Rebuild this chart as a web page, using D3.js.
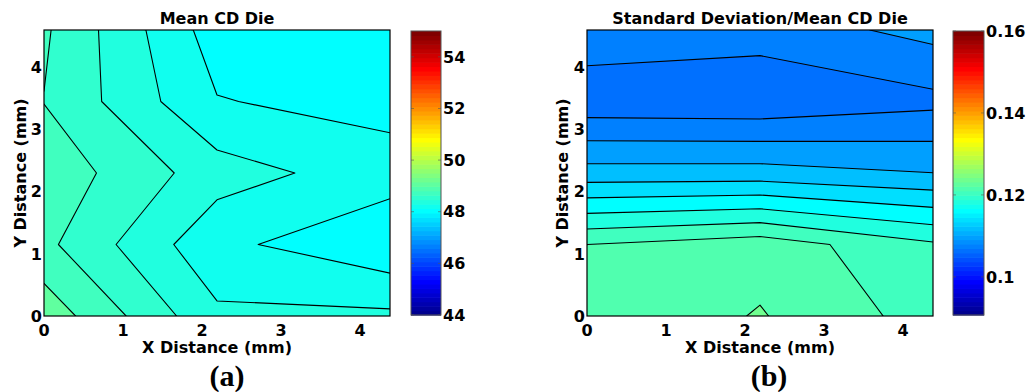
<!DOCTYPE html>
<html>
<head>
<meta charset="utf-8">
<script src="https://cdn.jsdelivr.net/npm/d3@7"></script>
<style>
  html, body { margin: 0; padding: 0; background: #fff; }
  svg { display: block; }
  text { font-family: "DejaVu Sans", sans-serif; font-weight: bold; fill: #000; }
  .cap { font-family: "Liberation Serif", "Times New Roman", serif; font-weight: bold; }
</style>
</head>
<body>
<svg id="chart" width="1029" height="392"></svg>
<script>
// ---------------- data ----------------
// grid node positions (mm)
const xGrid = [0, 2.19, 4.38];
const yGrid = [0, 1.15, 2.3, 3.45, 4.6];

// Mean CD per die (rows: y = 0 … 4.6, columns: x = 0, 2.19, 4.38)
const meanCD = [
  [49.125, 48.44, 48.44],
  [48.85, 48.25, 48.04],
  [48.935, 48.49, 48.29],
  [48.795, 48.21, 48.13],
  [48.83, 48.10, 48.00]
];
const meanLevels = [48.2, 48.4, 48.6, 48.8, 49.0];
const meanColorRange = [44, 55];
const meanColorTicks = [44, 46, 48, 50, 52, 54];

// Standard deviation / mean CD per die
const ratioCD = [
  [0.1222, 0.12415, 0.12113],
  [0.121999, 0.12316, 0.12029],
  [0.1128, 0.11283, 0.11202],
  [0.1066, 0.10644, 0.10745],
  [0.1094, 0.10887, 0.11065]
];
const ratioLevels = [0.108, 0.110, 0.112, 0.114, 0.116, 0.118, 0.120, 0.122, 0.124];
const ratioColorRange = [0.0907, 0.16];
const ratioColorTicks = [0.1, 0.12, 0.14, 0.16];

const axisTicks = [0, 1, 2, 3, 4];
const titles = ["Mean CD Die", "Standard Deviation/Mean CD Die"];
const captions = ["(a)", "(b)"];

// MATLAB jet(64) colormap
function jet64() {
  const n = 16, m = 64;
  const u = [];
  for (let k = 1; k <= n; k++) u.push(k / n);
  for (let k = 1; k < n; k++) u.push(1);
  for (let k = n; k >= 1; k--) u.push(k / n);
  const at = (pos) => (pos >= 1 && pos <= u.length) ? u[pos - 1] : 0;
  const out = [];
  for (let I = 1; I <= m; I++) {
    const r = at(I - 24), g = at(I - 8), b = at(I + 8);
    out.push(d3.rgb(Math.round(r * 255), Math.round(g * 255), Math.round(b * 255)).formatHex());
  }
  return out;
}
const jetColors = jet64();

// ---------------- drawing ----------------
const svg = d3.select("#chart");
svg.append("rect").attr("width", 1029).attr("height", 392).attr("fill", "#fff");

function panel(cfg) {
  const g = svg.append("g");
  const x = d3.scaleLinear().domain([0, 4.38]).range([cfg.left, cfg.left + 346]);
  const y = d3.scaleLinear().domain([0, 4.6]).range([316, 30]);
  const color = d3.scaleQuantize().domain(cfg.cRange).range(jetColors);

  const n = xGrid.length, m = yGrid.length;
  const flat = cfg.values.flat();
  // grid index coordinate (value i sits at i + 0.5) -> pixel
  const gx = d3.scaleLinear().domain([0.5, n - 0.5]).range([x(xGrid[0]), x(xGrid[n - 1])]);
  const gy = d3.scaleLinear().domain([0.5, m - 0.5]).range([y(yGrid[0]), y(yGrid[m - 1])]);
  const proj = d3.geoTransform({ point: function(px, py) { this.stream.point(gx(px), gy(py)); } });
  const path = d3.geoPath(proj);

  const clipId = "clip" + cfg.id;
  g.append("clipPath").attr("id", clipId).append("rect")
    .attr("x", x(0)).attr("y", y(4.6)).attr("width", x(4.38) - x(0)).attr("height", y(0) - y(4.6));

  const plot = g.append("g").attr("clip-path", `url(#${clipId})`);
  plot.append("rect")
    .attr("x", x(0)).attr("y", y(4.6)).attr("width", x(4.38) - x(0)).attr("height", y(0) - y(4.6))
    .attr("fill", color(d3.min(flat)));

  const contours = d3.contours().size([n, m]).thresholds(cfg.levels)(flat);
  plot.selectAll("path.band").data(contours).join("path")
    .attr("class", "band")
    .attr("d", path)
    .attr("fill", d => color(d.value))
    .attr("stroke", "#000")
    .attr("stroke-width", 1.1)
    .attr("stroke-linejoin", "round");

  // frame
  g.append("rect")
    .attr("x", x(0)).attr("y", y(4.6)).attr("width", x(4.38) - x(0)).attr("height", y(0) - y(4.6))
    .attr("fill", "none").attr("stroke", "#000").attr("stroke-width", 1.2);

  // tick labels
  g.selectAll("text.xt").data(axisTicks).join("text")
    .attr("class", "xt").attr("x", d => x(d)).attr("y", 336)
    .attr("text-anchor", "middle").attr("font-size", 16).text(d => d);
  g.selectAll("text.yt").data(axisTicks).join("text")
    .attr("class", "yt").attr("x", x(0) - 2).attr("y", d => y(d)).attr("dy", "0.36em")
    .attr("text-anchor", "end").attr("font-size", 16).text(d => d);

  // labels
  g.append("text").attr("x", (x(0) + x(4.38)) / 2).attr("y", 24)
    .attr("text-anchor", "middle").attr("font-size", 16).text(cfg.title);
  g.append("text").attr("x", (x(0) + x(4.38)) / 2).attr("y", 353)
    .attr("text-anchor", "middle").attr("font-size", 16).text("X Distance (mm)");
  g.append("text")
    .attr("transform", `translate(${cfg.ylabX},${(y(0) + y(4.6)) / 2}) rotate(-90)`)
    .attr("text-anchor", "middle").attr("font-size", 16).text("Y Distance (mm)");
  g.append("text").attr("class", "cap").attr("x", cfg.capX).attr("y", 386)
    .attr("text-anchor", "middle").attr("font-size", 30).text(cfg.caption);

  // colorbar
  const cb = g.append("g");
  const cy = d3.scaleLinear().domain(cfg.cRange).range([315, 31]);
  const N = jetColors.length;
  const step = (cfg.cRange[1] - cfg.cRange[0]) / N;
  cb.selectAll("rect.cbs").data(d3.range(N)).join("rect")
    .attr("class", "cbs")
    .attr("x", cfg.cbX).attr("width", cfg.cbW)
    .attr("y", i => cy(cfg.cRange[0] + (i + 1) * step))
    .attr("height", i => cy(cfg.cRange[0] + i * step) - cy(cfg.cRange[0] + (i + 1) * step) + 0.6)
    .attr("fill", i => color(cfg.cRange[0] + (i + 0.5) * step));
  cb.append("rect").attr("x", cfg.cbX).attr("y", 31).attr("width", cfg.cbW).attr("height", 284)
    .attr("fill", "none").attr("stroke", "#555").attr("stroke-width", 1);
  cb.selectAll("line.tl").data(cfg.cTicks).join("line")
    .attr("class", "tl").attr("x1", cfg.cbX).attr("x2", cfg.cbX + 3)
    .attr("y1", d => cy(d)).attr("y2", d => cy(d)).attr("stroke", "#555").attr("stroke-width", 0.6);
  cb.selectAll("line.tr").data(cfg.cTicks).join("line")
    .attr("class", "tr").attr("x1", cfg.cbX + cfg.cbW - 3).attr("x2", cfg.cbX + cfg.cbW)
    .attr("y1", d => cy(d)).attr("y2", d => cy(d)).attr("stroke", "#555").attr("stroke-width", 0.6);
  cb.selectAll("text.ct").data(cfg.cTicks).join("text")
    .attr("class", "ct").attr("x", cfg.cbX + cfg.cbW + 2).attr("y", d => cy(d)).attr("dy", "0.36em")
    .attr("font-size", 16).text(d => d);
}

panel({ id: "a", left: 44, values: meanCD, levels: meanLevels, cRange: meanColorRange,
        cTicks: meanColorTicks, title: titles[0], caption: captions[0], capX: 227,
        ylabX: 25.5, cbX: 411, cbW: 30 });
panel({ id: "b", left: 587, values: ratioCD, levels: ratioLevels, cRange: ratioColorRange,
        cTicks: ratioColorTicks, title: titles[1], caption: captions[1], capX: 769,
        ylabX: 568, cbX: 953, cbW: 31 });
</script>
</body>
</html>
